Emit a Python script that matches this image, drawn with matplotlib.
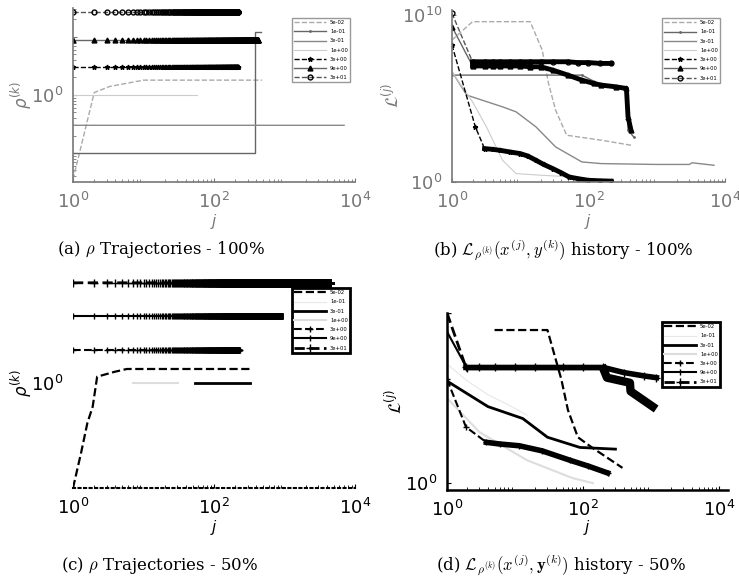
import numpy as np
import matplotlib.pyplot as plt

# legend labels (initial rho of each run)
labels = ["5e-02", "1e-01", "3e-01", "1e+00", "3e+00", "9e+00", "3e+01"]

# ---- (a) rho trajectories, 100% ----
a_adapt_j = [1, 2, 3.3, 10, 20, 480]
a_adapt_rho = [0.035, 1.1, 1.4, 1.8, 1.8, 1.8]
a_s1_j = [1, 380, 380, 460]
a_s1_rho = [0.1, 0.1, 12, 12]
# constant runs: (rho, number of iterations)
a_const_rho = [0.3, 1.0, 3.0, 9.0, 27.0]
a_const_n = [7000, 57, 220, 420, 220]

# ---- (b) augmented Lagrangian history, 100% (log10 values) ----
b_j = [
    [1, 2, 14, 21, 26, 33, 48, 155, 420],
    [1, 80, 155, 370, 380, 460],
    [1, 1.65, 5.5, 8.7, 17, 33, 80, 155, 1000, 3000, 3300, 6900],
    [1, 2, 3.2, 5.5, 8.7, 21, 57],
    [1, 2.2, 3, 4, 5, 7, 10, 13, 17, 22, 30, 40, 52, 70, 100, 150, 215],
    [1, 2, 3, 4, 5, 7, 10, 14, 20, 30, 50, 80, 120, 155, 250, 360, 380, 420],
    [1, 2, 3, 4, 5, 7, 10, 14, 20, 30, 50, 70, 100, 150, 215],
]
b_log = [
    [8.5, 9.6, 9.6, 7.9, 5.9, 4.3, 2.8, 2.5, 2.2],
    [6.4, 6.4, 5.8, 5.6, 3.1, 2.7],
    [6.6, 5.2, 4.5, 4.2, 3.3, 2.1, 1.2, 1.1, 1.05, 1.05, 1.15, 1.0],
    [6.6, 4.8, 3.3, 1.3, 0.5, 0.4, 0.3],
    [8.2, 3.3, 2.0, 1.95, 1.9, 1.8, 1.7, 1.55, 1.3, 1.05, 0.8, 0.55, 0.3, 0.2, 0.1, 0.07, 0.05],
    [9.3, 6.95, 6.95, 6.95, 6.95, 6.95, 6.95, 6.9, 6.9, 6.7, 6.4, 6.1, 5.9, 5.8, 5.7, 5.6, 3.9, 3.1],
    [10.1, 7.2, 7.2, 7.2, 7.2, 7.2, 7.2, 7.2, 7.2, 7.2, 7.2, 7.15, 7.15, 7.1, 7.1],
]

# ---- (c) rho trajectories, 50% ----
c_adapt_j = [1, 1.3, 1.6, 1.9, 2.2, 3.9, 5.8, 320]
c_adapt_log = [-1.5, -1.0, -0.57, -0.34, 0.09, 0.16, 0.2, 0.2]
c_s2_j = [53, 320]
c_s2_rho = [1.0, 1.0]
c_s3_j = [7, 31]
c_s3_rho = [1.0, 1.0]
c_const_rho = [3.0, 9.0, 27.0]
c_const_n = [230, 920, 4400]

# ---- (d) augmented Lagrangian history, 50% (log10 values) ----
d_j = [
    [5, 30, 48, 53, 60, 84, 135, 380],
    [1, 2, 4, 8, 15],
    [1, 4, 13, 30, 90, 300],
    [1, 3, 15, 70, 140],
    [1, 1.9, 3.8, 6, 11.5, 25, 64, 120, 230],
    [1, 2, 200, 225, 490, 500, 1060],
    [1, 1.9, 3, 5, 10, 20, 50, 100, 200, 400, 800, 1200],
]
d_log = [
    [9.0, 9.0, 6.1, 5.3, 4.3, 2.7, 2.1, 0.9],
    [7.0, 6.0, 5.2, 4.6, 4.0],
    [6.0, 4.5, 3.8, 2.7, 2.1, 2.0],
    [5.0, 3.0, 1.35, 0.3, 0.0],
    [6.1, 3.3, 2.4, 2.3, 2.2, 1.9, 1.35, 1.0, 0.6],
    [8.9, 6.7, 6.7, 6.2, 5.9, 5.4, 4.5],
    [10.0, 6.8, 6.8, 6.8, 6.8, 6.8, 6.8, 6.8, 6.8, 6.5, 6.3, 6.2],
]

gray = '#777777'
st_ab = [
    dict(ls='--', color='#aaaaaa', lw=1),
    dict(ls='-', color='#666666', lw=1, marker='.', ms=2),
    dict(ls='-', color='#888888', lw=1),
    dict(ls='-', color='#cccccc', lw=0.8),
    dict(ls='--', color='k', lw=1, marker='*', ms=3.5),
    dict(ls='-', color='#666666', lw=1, marker='^', ms=3.5, mfc='k', mec='k'),
    dict(ls='--', color='#555555', lw=1, marker='o', ms=3.5, mfc='none', mec='k'),
]
st_cd = [
    dict(ls='--', color='k', lw=1.6),
    dict(ls='-', color='#e8e8e8', lw=0.8),
    dict(ls='-', color='k', lw=2),
    dict(ls='-', color='#dddddd', lw=1.5),
    dict(ls='--', color='k', lw=1.5, marker='+', ms=5),
    dict(ls='-', color='k', lw=1.5, marker='|', ms=4),
    dict(ls='--', color='k', lw=2, marker='+', ms=6),
]

fig = plt.figure(figsize=(7.39, 5.84), dpi=100)
ax_a = fig.add_axes([0.0988, 0.6884, 0.3816, 0.298])
ax_b = fig.add_axes([0.6116, 0.6884, 0.3694, 0.2945])
ax_c = fig.add_axes([0.0988, 0.1644, 0.3816, 0.3596])
ax_d = fig.add_axes([0.6049, 0.161, 0.380, 0.303])


def setup(ax, col, lw):
    ax.set_xscale('log')
    ax.set_yscale('log')
    for s in ['top', 'right']:
        ax.spines[s].set_visible(False)
    for s in ['left', 'bottom']:
        ax.spines[s].set_color(col)
        ax.spines[s].set_linewidth(lw)
    ax.tick_params(which='both', direction='in', colors=col, labelsize=13, pad=7)
    ax.tick_params(which='minor', length=2)
    ax.tick_params(which='major', length=3)


def add_legend(ax, handles, anchor, col, lw):
    leg = ax.legend(handles, labels, loc='upper right', bbox_to_anchor=anchor,
                    borderaxespad=0, fontsize=3.8, handlelength=6, labelspacing=0.8,
                    fancybox=False, framealpha=1, edgecolor=col)
    leg.get_frame().set_linewidth(lw)


# (a)
setup(ax_a, gray, 1.2)
ax_a.plot(a_adapt_j, a_adapt_rho, **st_ab[0])
ax_a.plot(a_s1_j, a_s1_rho, **{**st_ab[1], 'marker': None})
for k, (r, n) in enumerate(zip(a_const_rho, a_const_n)):
    it = np.arange(1, n + 1)
    ax_a.plot(it, np.full(n, r), **st_ab[k + 2])
ax_a.set_xlim(1, 1e4)
ax_a.set_ylim(10 ** -1.5, 10 ** 1.5)
ax_a.set_xticks([1, 1e2, 1e4])
ax_a.set_yticks([0.1, 1, 10])
ax_a.set_yticklabels(['', '$10^0$', ''])
ax_a.set_xlabel('$j$', color=gray, fontsize=11, labelpad=0)
ax_a.set_ylabel(r'$\rho^{(k)}$', color=gray, fontsize=12, labelpad=-2)
add_legend(ax_a, [plt.Line2D([], [], **s) for s in st_ab], (0.982, 0.943), '#999999', 1)

# (b)
setup(ax_b, gray, 1.2)
for k in range(7):
    ax_b.plot(b_j[k], 10.0 ** np.array(b_log[k]), **st_ab[k])
for k, start in [(4, 2), (5, 1), (6, 1)]:
    ax_b.plot(b_j[k][start:], 10.0 ** np.array(b_log[k][start:]), color='k', lw=3.5, ls='-')
ax_b.set_xlim(1, 1e4)
ax_b.set_ylim(1, 10 ** 10.3)
ax_b.set_xticks([1, 1e2, 1e4])
ax_b.set_yticks([1, 1e10])
ax_b.yaxis.set_minor_locator(plt.NullLocator())
ax_b.set_xlabel('$j$', color=gray, fontsize=11, labelpad=0)
ax_b.set_ylabel(r'$\mathcal{L}^{(j)}$', color=gray, fontsize=12, labelpad=0)
add_legend(ax_b, [plt.Line2D([], [], **s) for s in st_ab], (0.982, 0.953), '#999999', 1)

# (c)
setup(ax_c, 'k', 1.5)
ax_c.spines['left'].set_visible(False)
ax_c.spines['bottom'].set_linestyle(':')
ax_c.plot(c_adapt_j, 10.0 ** np.array(c_adapt_log), **st_cd[0])
ax_c.plot(c_s2_j, c_s2_rho, **st_cd[2])
ax_c.plot(c_s3_j, c_s3_rho, **st_cd[3])
for k, (r, n) in enumerate(zip(c_const_rho, c_const_n)):
    it = np.arange(1, n + 1)
    ax_c.plot(it, np.full(n, r), **st_cd[k + 4])
ax_c.set_xlim(1, 1e4)
ax_c.set_ylim(10 ** -1.5, 10 ** 1.5)
ax_c.set_xticks([1, 1e2, 1e4])
ax_c.set_yticks([1])
ax_c.yaxis.set_minor_locator(plt.NullLocator())
ax_c.tick_params(axis='y', length=0)
ax_c.set_xlabel('$j$', fontsize=11, labelpad=0)
ax_c.set_ylabel(r'$\rho^{(k)}$', fontsize=12, labelpad=-2)
add_legend(ax_c, [plt.Line2D([], [], **s) for s in st_cd], (0.982, 0.952), 'k', 2)

# (d)
setup(ax_d, 'k', 1.8)
for k in range(7):
    ax_d.plot(d_j[k], 10.0 ** np.array(d_log[k]), **st_cd[k])
for k, start in [(4, 2), (6, 1)]:
    ax_d.plot(d_j[k][start:], 10.0 ** np.array(d_log[k][start:]), color='k', lw=4, ls='-')
ax_d.plot(d_j[5][2:], 10.0 ** np.array(d_log[5][2:]), color='k', lw=6, ls='-')
ax_d.set_xlim(1, 10 ** 4.13)
ax_d.set_ylim(10 ** -0.4, 1e10)
ax_d.set_xticks([1, 1e2, 1e4])
ax_d.set_yticks([1])
ax_d.yaxis.set_minor_locator(plt.NullLocator())
ax_d.set_xlabel('$j$', fontsize=11, labelpad=-1)
ax_d.set_ylabel(r'$\mathcal{L}^{(j)}$', fontsize=12, labelpad=0)
add_legend(ax_d, [plt.Line2D([], [], **s) for s in st_cd], (0.972, 0.949), 'k', 2)

# captions
caps = [
    (161, 250, r'(a) $\rho$ Trajectories - 100%'),
    (563, 250, r'(b) $\mathcal{L}_{\rho^{(k)}}(x^{(j)}, y^{(k)})$ history - 100%'),
    (160, 565, r'(c) $\rho$ Trajectories - 50%'),
    (561, 565, r'(d) $\mathcal{L}_{\rho^{(k)}}(x^{(j)}, \mathbf{y}^{(k)})$ history - 50%'),
]
for x, y, t in caps:
    fig.text(x / 739, 1 - y / 584, t, ha='center', va='center', fontsize=12,
             family='DejaVu Serif', math_fontfamily='cm')

fig.savefig('out.png', dpi=100)
